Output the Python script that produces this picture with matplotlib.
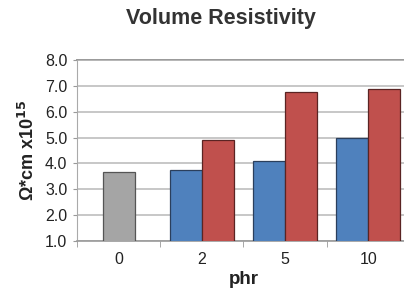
import numpy as np
import matplotlib
matplotlib.use("Agg")
import matplotlib.pyplot as plt

categories = ["0", "2", "5", "10"]
series_a = [3.66, 3.75, 4.09, 4.98]
series_b = [np.nan, 4.91, 6.78, 6.89]
yticks = [1.0, 2.0, 3.0, 4.0, 5.0, 6.0, 7.0, 8.0]

plt.rcParams["font.family"] = ["Liberation Sans", "DejaVu Sans"]

fig = plt.figure(figsize=(4.04, 2.94), dpi=100)
ax = fig.add_axes([0.1906, 0.180, 0.824, 0.616])

x = np.arange(len(categories))
w = 0.385

# first group has only the reference bar, centred
ax.bar(x[0], series_a[0], width=w, bottom=0, color="#a5a5a5",
       edgecolor="#555555", linewidth=0.9, zorder=3)
ax.bar(x[1:] - w / 2, series_a[1:], width=w, color="#4f81bd",
       edgecolor="#2b3f5c", linewidth=0.9, zorder=3)
ax.bar(x[1:] + w / 2, series_b[1:], width=w, color="#c0504d",
       edgecolor="#5a2423", linewidth=0.9, zorder=3)

ax.set_ylim(1.0, 8.0)
ax.set_xlim(-0.5, len(categories) - 0.5)
ax.set_yticks(yticks)
ax.set_yticklabels([f"{v:.1f}" for v in yticks], fontsize=11.5, color="#222222")
ax.set_xticks(x)
ax.set_xticklabels(categories, fontsize=11.5, color="#222222")
ax.tick_params(axis="x", which="major", length=0, pad=8)
ax.tick_params(axis="y", length=3, color="#999999", pad=4)
ax.set_xticks(np.arange(len(categories) + 1) - 0.5, minor=True)
ax.tick_params(axis="x", which="minor", length=4, color="#999999")

ax.grid(axis="y", color="#bdbdbd", linewidth=1.2, zorder=0)
for s in ["top", "right"]:
    ax.spines[s].set_visible(False)
ax.spines["left"].set_color("#aaaaaa")
ax.spines["bottom"].set_color("#999999")
ax.spines["bottom"].set_linewidth(1.2)
ax.axhline(8.0, color="#999999", linewidth=1.4, zorder=1, clip_on=False)

ax.set_ylabel("Ω*cm x10$^{\\mathbf{15}}$", fontsize=13, fontweight="bold",
              color="#222222", labelpad=5)
ax.set_xlabel("phr", fontsize=13.5, fontweight="bold", color="#222222", labelpad=3)
fig.text(0.547, 0.937, "Volume Resistivity", ha="center", va="center",
         fontsize=15.5, fontweight="bold", color="#333333")

fig.savefig("out.png", dpi=100)
